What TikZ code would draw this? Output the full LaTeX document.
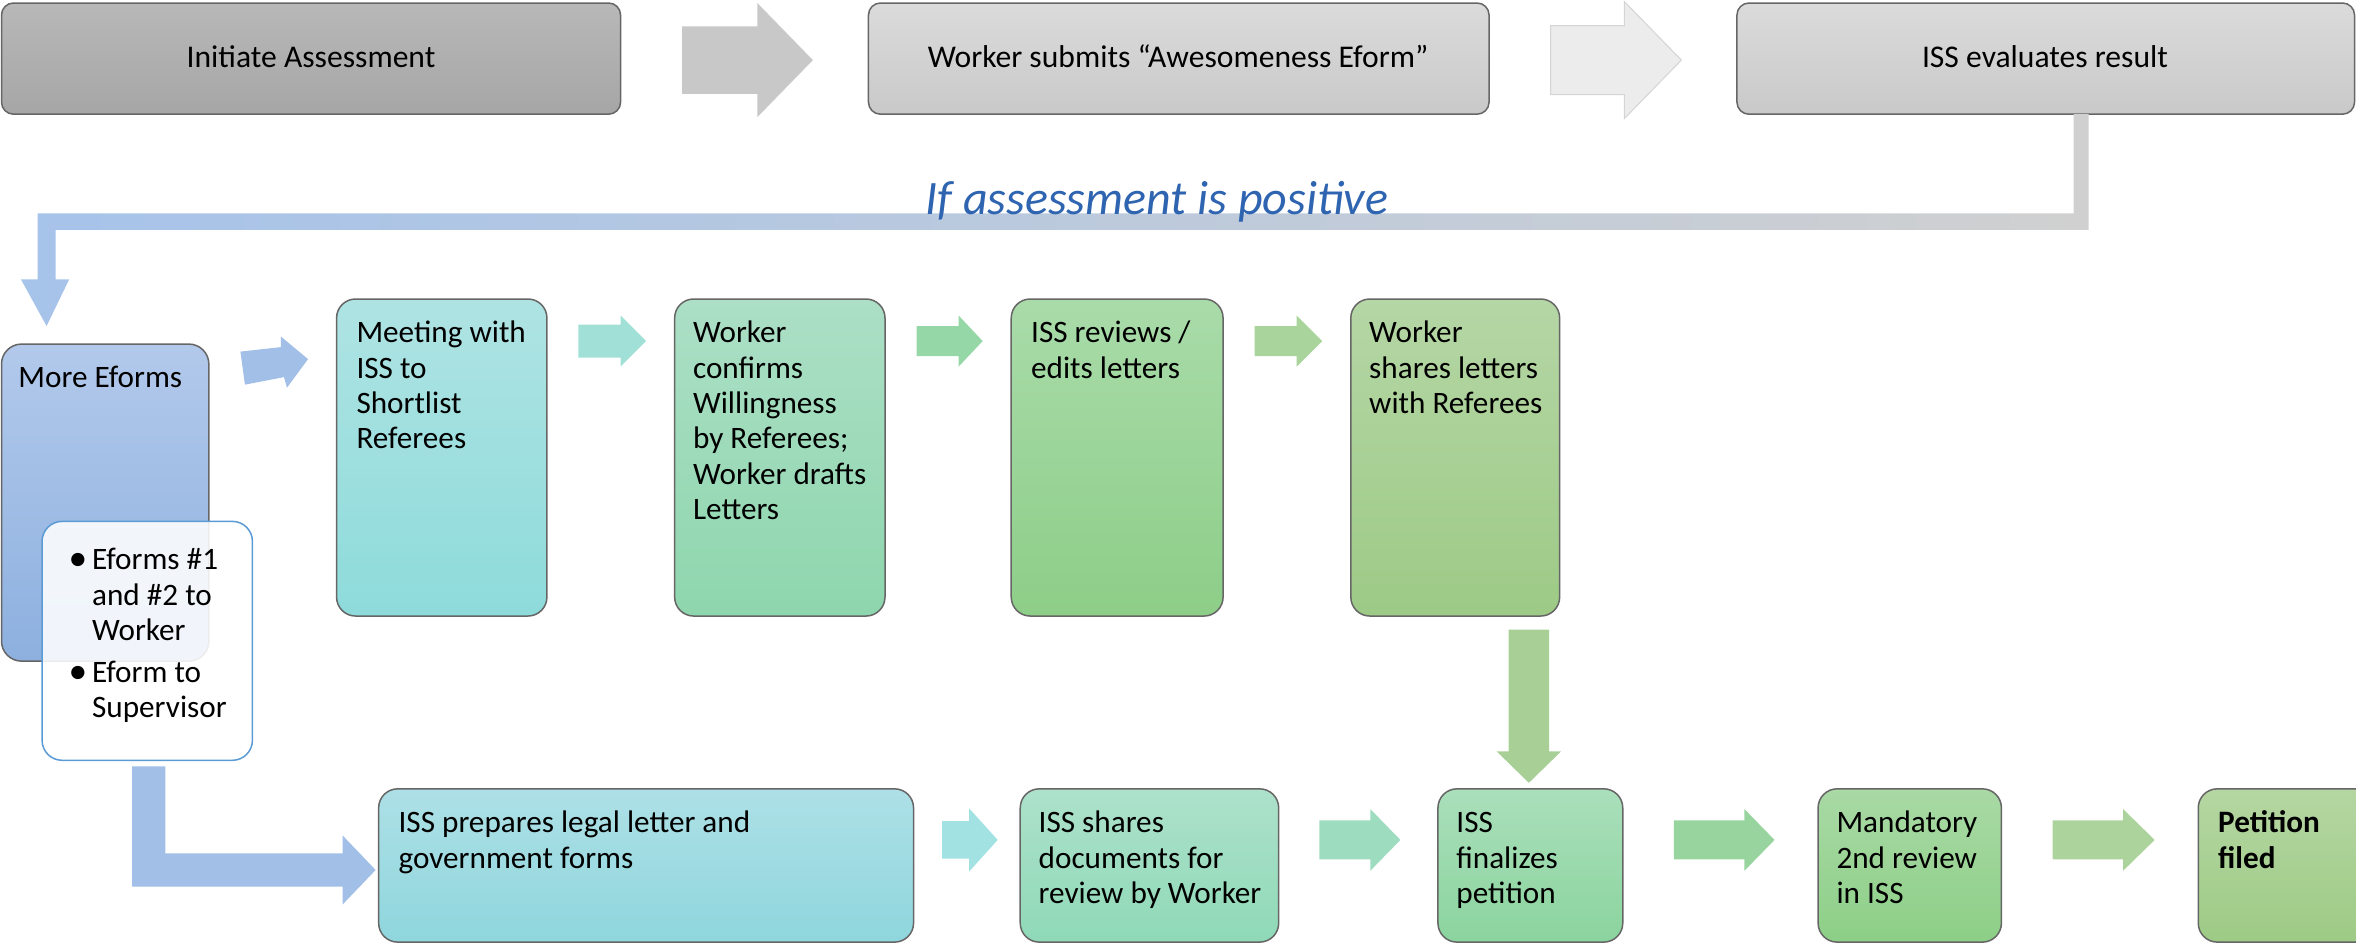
\documentclass[tikz,border=0pt]{standalone}
\usepackage{fontspec}
\setmainfont{Carlito}
\usetikzlibrary{fit}
\definecolor{boxline}{HTML}{666666}
\definecolor{gA1}{HTML}{B8B8B8}\definecolor{gA2}{HTML}{A6A6A6}
\definecolor{gB1}{HTML}{DBDBDB}\definecolor{gB2}{HTML}{C9C9C9}
\definecolor{blueT}{HTML}{B2C9EB}\definecolor{blueB}{HTML}{8DB0DF}
\definecolor{bulline}{HTML}{5B9BD5}
\definecolor{meetT}{HTML}{AFE3E3}\definecolor{meetB}{HTML}{8EDBDB}
\definecolor{confT}{HTML}{ACDFC6}\definecolor{confB}{HTML}{8ED6AD}
\definecolor{revT}{HTML}{A9DBA9}\definecolor{revB}{HTML}{8DCE88}
\definecolor{shrT}{HTML}{B5D6A5}\definecolor{shrB}{HTML}{9DCA86}
\definecolor{prepT}{HTML}{ADE0E6}\definecolor{prepB}{HTML}{8FD6DD}
\definecolor{sdT}{HTML}{ADE1CB}\definecolor{sdB}{HTML}{8FD9B7}
\definecolor{finT}{HTML}{AADFBB}\definecolor{finB}{HTML}{8BD49E}
\definecolor{manT}{HTML}{A9D9A5}\definecolor{manB}{HTML}{8DCF87}
\definecolor{petT}{HTML}{B5D6A2}\definecolor{petB}{HTML}{9DCB85}
\definecolor{arGrey}{HTML}{C8C8C8}
\definecolor{arLight}{HTML}{ECECEC}\definecolor{arLightLine}{HTML}{D4D4D4}
\definecolor{arBlue}{HTML}{A2BFE7}
\definecolor{arCyan}{HTML}{A0E0D6}
\definecolor{arMint}{HTML}{96D7A8}
\definecolor{arGreen}{HTML}{A9D59C}
\definecolor{arCyan2}{HTML}{A3E2E2}
\definecolor{arMint2}{HTML}{9DDCBF}
\definecolor{arGreen2}{HTML}{98D59E}
\definecolor{arGreen3}{HTML}{ADD39C}
\definecolor{arDown}{HTML}{A8D096}
\definecolor{flowL}{HTML}{A6C3EA}\definecolor{flowR}{HTML}{D0D0D0}
\definecolor{ifblue}{HTML}{2E64B0}
\newcommand\bodyfont{\fontsize{15.6pt}{17.65pt}\selectfont}
\newcommand\topfont{\fontsize{15.8pt}{18pt}\selectfont}
\newcommand\bul{\makebox[11.3pt][l]{\hspace*{-0.5pt}\raisebox{-0.3pt}{\scalebox{1.2}{•}}}}
\newcommand\hang{\hspace*{11.3pt}}
% block arrow: xs, xb, xt, yc, half shaft, half head, style
\newcommand\barrow[7]{\path[#7] (#1,{#4-#5}) -- (#2,{#4-#5}) -- (#2,{#4-#6}) -- (#3,#4) -- (#2,{#4+#6}) -- (#2,{#4+#5}) -- (#1,{#4+#5}) -- cycle;}
\tikzset{
  box/.style={draw=boxline, line width=0.75pt, rounded corners=9.5pt, inner sep=0pt},
  topbox/.style={box, rounded corners=6pt},
  txt/.style={anchor=north west, inner sep=0pt, align=left, font=\bodyfont, text=black},
  ctxt/.style={anchor=base, inner sep=0pt, font=\topfont, text=black},
}
\begin{document}
\begin{tikzpicture}[x=0.7513pt,y=-0.7513pt]
\useasboundingbox (0,0) rectangle (1568,628);
\clip (0,0) rectangle (1568,628);

% ---- top row ----
\node[topbox, top color=gA1, bottom color=gA2, fit={(1,2) (413,76)}] (b1) {};
\node[topbox, top color=gB1, bottom color=gB2, fit={(578,2) (991,76)}] (b2) {};
\node[topbox, top color=gB1, bottom color=gB2, fit={(1156,2) (1567,76)}] (b3) {};
\node[ctxt] (b1t) at (207,45) {Initiate Assessment};
\node[ctxt] (b2t) at (784,45) {Worker submits “Awesomeness Eform”};
\node[ctxt] (b3t) at (1361,45) {ISS evaluates result};
\barrow{454}{504}{541}{40}{22.5}{38}{fill=arGrey}
\barrow{1032}{1081}{1119}{40}{23}{39}{fill=arLight, draw=arLightLine, line width=0.5pt}

% ---- bent flow arrow from ISS evaluates ----
\path[left color=flowL, right color=flowR]
  (1380,76) -- (1390,76) -- (1390,153) -- (37,153) -- (37,186) -- (46,186) -- (31,217)
  -- (14,186) -- (25,186) -- (25,142) -- (1380,142) -- cycle;
\node[anchor=base, inner sep=0pt, font=\fontsize{24pt}{28pt}\selectfont\itshape, text=ifblue] (cond) at (770,143) {If assessment is positive};

% ---- second row ----
\node[box, rounded corners=10pt, top color=blueT, bottom color=blueB, fit={(1,229) (139,440)}] (more) {};
\node[txt] (moret) at (12,229+12.5) {\strut More Eforms};
\node[box, rounded corners=10pt, draw=bulline, fill=white, fill opacity=0.88, fit={(28,347) (168,506)}] (bul) {};
\node[txt] (bult) at (46,362.5) {\strut\bul Eforms \#1\\
  \hang and \#2 to\\
  \hang Worker\\[3.4pt]
  \bul Eform to\\
  \hang Supervisor};
\path[fill=arBlue] (160,234) -- (187,231) -- (187,224) -- (205,239) -- (191,258) -- (189,251) -- (163,256) -- cycle;

\node[box, top color=meetT, bottom color=meetB, fit={(224,199) (364,410)}] (meet) {};
\node[txt] (meett) at (237,211.5) {\strut Meeting with\\ISS to\\Shortlist\\Referees};
\node[box, top color=confT, bottom color=confB, fit={(449,199) (589,410)}] (conf) {};
\node[txt] (conft) at (461,211.5) {\strut Worker\\confirms\\Willingness\\by Referees;\\Worker drafts\\Letters};
\node[box, top color=revT, bottom color=revB, fit={(673,199) (814,410)}] (rev) {};
\node[txt] (revt) at (686,211.5) {\strut ISS reviews /\\edits letters};
\node[box, top color=shrT, bottom color=shrB, fit={(899,199) (1038,410)}] (shr) {};
\node[txt] (shrt) at (911,211.5) {\strut Worker\\shares letters\\with Referees};
\barrow{385}{413}{430}{227}{11}{17}{fill=arCyan}
\barrow{610}{638}{654}{227}{10}{17}{fill=arMint}
\barrow{835}{863}{880}{227}{10}{17}{fill=arGreen}
% down arrow
\path[fill=arDown] (1004,419) -- (1031,419) -- (1031,500) -- (1039,500) -- (1017.5,521) -- (996,500) -- (1004,500) -- cycle;

% ---- bent arrow to bottom row ----
\path[fill=arBlue] (88,510) -- (110,510) -- (110,568) -- (228,568) -- (228,556) -- (250,579)
  -- (228,602) -- (228,590) -- (88,590) -- cycle;

% ---- third row ----
\node[box, top color=prepT, bottom color=prepB, fit={(252,525) (608,627)}] (prep) {};
\node[txt] (prept) at (265,537.5) {\strut ISS prepares legal letter and\\government forms};
\node[box, top color=sdT, bottom color=sdB, fit={(679,525) (851,627)}] (sd) {};
\node[txt] (sdt) at (691,537.5) {\strut ISS shares\\documents for\\review by Worker};
\node[box, top color=finT, bottom color=finB, fit={(957,525) (1080,627)}] (fin) {};
\node[txt] (fint) at (969,537.5) {\strut ISS\\finalizes\\petition};
\node[box, top color=manT, bottom color=manB, fit={(1210,525) (1332,627)}] (man) {};
\node[txt] (mant) at (1222,537.5) {\strut Mandatory\\2nd review\\in ISS};
\node[box, top color=petT, bottom color=petB, fit={(1463,525) (1595,627)}] (pet) {};
\node[txt, font=\bodyfont\bfseries] (pett) at (1476,537.5) {\strut Petition\\filed};
\barrow{627}{645}{664}{559}{12.5}{21}{fill=arCyan2}
\barrow{878}{912}{932}{559}{13}{20.5}{fill=arMint2}
\barrow{1114}{1161}{1181}{559}{13}{20.5}{fill=arGreen2}
\barrow{1366}{1413}{1434}{559}{13}{20.5}{fill=arGreen3}
\end{tikzpicture}
\end{document}
